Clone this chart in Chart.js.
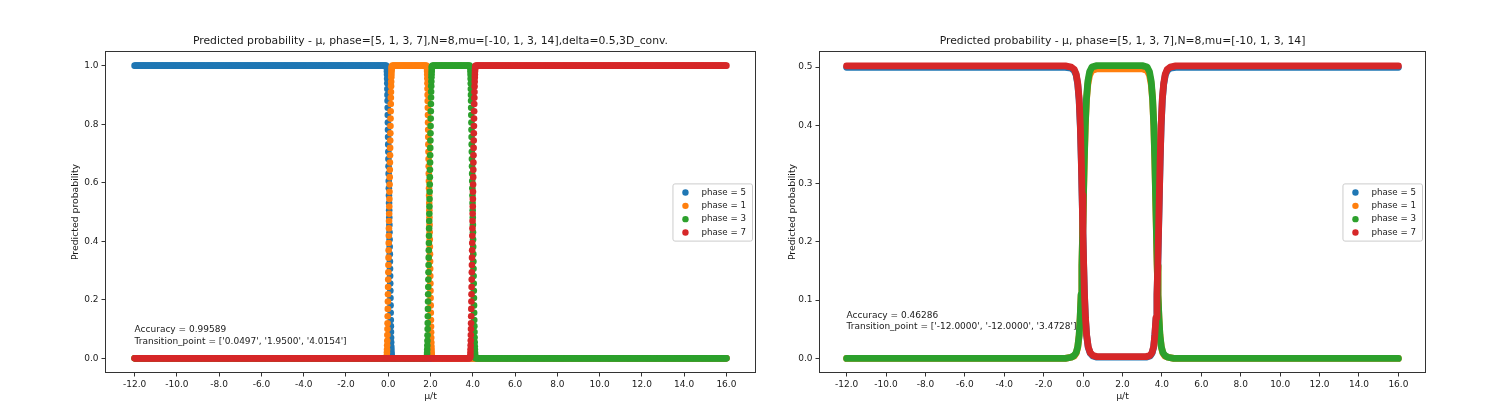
<!DOCTYPE html>
<html lang="en">
<head>
  <meta charset="UTF-8" />
  <title>Predicted probability</title>
  <script src="https://cdn.jsdelivr.net/npm/chart.js"></script>
  <style>
    body { margin: 0; background: #fff; }
    #wrap { position: relative; width: 1505px; height: 420px; }
    canvas { position: absolute; top: 0; }
    #leftChart { left: 0; }
    #rightChart { left: 780px; }
  </style>
</head>
<body>
<div id="wrap">
  <canvas id="leftChart" width="780" height="420"></canvas>
  <canvas id="rightChart" width="725" height="420"></canvas>
</div>

<script>
  const phases = ['phase = 5', 'phase = 1', 'phase = 3', 'phase = 7'];
  const colors = ['#1f77b4', '#ff7f0e', '#2ca02c', '#d62728'];
  const xTicks = [-12, -10, -8, -6, -4, -2, 0, 2, 4, 6, 8, 10, 12, 14, 16];
  const leftYTicks = [0, 0.2, 0.4, 0.6, 0.8, 1.0];
  const rightYTicks = [0, 0.1, 0.2, 0.3, 0.4, 0.5];

  const leftTitle = 'Predicted probability - μ, phase=[5, 1, 3, 7],N=8,mu=[-10, 1, 3, 14],delta=0.5,3D_conv.';
  const rightTitle = 'Predicted probability - μ, phase=[5, 1, 3, 7],N=8,mu=[-10, 1, 3, 14]';
  const leftNote = ['Accuracy = 0.99589', "Transition_point = ['0.0497', '1.9500', '4.0154']"];
  const rightNote = ['Accuracy = 0.46286', "Transition_point = ['-12.0000', '-12.0000', '3.4728']"];

  // mu sampling: flat stretches every 0.05, steep edges every 0.005
  const FLAT_STEP = 0.05;
  const EDGE_STEP = 0.005;

  // left panel, flat stretches: [mu from, mu to, probability]
  const left5Flat = [[-12, -0.1, 1.0], [0.2, 16, 0.0]];
  const left1Flat = [[-12, -0.1, 0.0], [0.2, 1.8, 1.0], [2.1, 16, 0.0]];
  const left3Flat = [[-12, 1.8, 0.0], [2.1, 3.85, 1.0], [4.15, 16, 0.0]];
  const left7Flat = [[-12, 3.85, 0.0], [4.15, 16, 1.0]];

  // left panel, steep edges: probabilities read every EDGE_STEP from the first mu
  const left5Drop = [0.995, 0.99, 0.98, 0.97, 0.955, 0.94, 0.92, 0.9, 0.88, 0.856, 0.831, 0.806, 0.781, 0.756, 0.731, 0.706, 0.681, 0.656, 0.631, 0.606, 0.581, 0.556, 0.531, 0.506, 0.481, 0.456, 0.431, 0.406, 0.381, 0.356, 0.331, 0.306, 0.281, 0.256, 0.231, 0.206, 0.181, 0.156, 0.131, 0.11, 0.09, 0.07, 0.055, 0.04, 0.03, 0.02, 0.012, 0.006, 0.002];
  const left1Rise = [0.005, 0.01, 0.02, 0.03, 0.045, 0.06, 0.08, 0.1, 0.12, 0.144, 0.169, 0.194, 0.219, 0.244, 0.269, 0.294, 0.319, 0.344, 0.369, 0.394, 0.419, 0.444, 0.469, 0.494, 0.519, 0.544, 0.569, 0.594, 0.619, 0.644, 0.669, 0.694, 0.719, 0.744, 0.769, 0.794, 0.819, 0.844, 0.869, 0.89, 0.91, 0.93, 0.945, 0.96, 0.97, 0.98, 0.988, 0.994, 0.998];
  const left1Drop = [0.996, 0.99, 0.982, 0.97, 0.956, 0.94, 0.921, 0.9, 0.879, 0.856, 0.831, 0.806, 0.781, 0.756, 0.731, 0.706, 0.681, 0.656, 0.631, 0.606, 0.581, 0.556, 0.531, 0.506, 0.481, 0.456, 0.431, 0.406, 0.381, 0.356, 0.331, 0.306, 0.281, 0.256, 0.231, 0.206, 0.181, 0.156, 0.131, 0.109, 0.089, 0.07, 0.054, 0.04, 0.029, 0.019, 0.011, 0.005, 0.002];
  const left3Rise = [0.004, 0.01, 0.018, 0.03, 0.044, 0.06, 0.079, 0.1, 0.121, 0.144, 0.169, 0.194, 0.219, 0.244, 0.269, 0.294, 0.319, 0.344, 0.369, 0.394, 0.419, 0.444, 0.469, 0.494, 0.519, 0.544, 0.569, 0.594, 0.619, 0.644, 0.669, 0.694, 0.719, 0.744, 0.769, 0.794, 0.819, 0.844, 0.869, 0.891, 0.911, 0.93, 0.946, 0.96, 0.971, 0.981, 0.989, 0.995, 0.998];
  const left3Drop = [0.995, 0.99, 0.98, 0.969, 0.955, 0.939, 0.92, 0.9, 0.88, 0.856, 0.831, 0.806, 0.781, 0.756, 0.731, 0.706, 0.681, 0.656, 0.631, 0.606, 0.581, 0.556, 0.531, 0.506, 0.481, 0.456, 0.431, 0.406, 0.381, 0.356, 0.331, 0.306, 0.281, 0.256, 0.231, 0.206, 0.181, 0.156, 0.131, 0.11, 0.09, 0.071, 0.055, 0.041, 0.03, 0.02, 0.012, 0.006, 0.002];
  const left7Rise = [0.005, 0.01, 0.02, 0.031, 0.045, 0.061, 0.08, 0.1, 0.12, 0.144, 0.169, 0.194, 0.219, 0.244, 0.269, 0.294, 0.319, 0.344, 0.369, 0.394, 0.419, 0.444, 0.469, 0.494, 0.519, 0.544, 0.569, 0.594, 0.619, 0.644, 0.669, 0.694, 0.719, 0.744, 0.769, 0.794, 0.819, 0.844, 0.869, 0.89, 0.91, 0.929, 0.945, 0.959, 0.97, 0.98, 0.988, 0.994, 0.998];
  // first mu of each edge
  const left5Edges = [[-0.07, left5Drop]];
  const left1Edges = [[-0.07, left1Rise], [1.83, left1Drop]];
  const left3Edges = [[1.83, left3Rise], [3.88, left3Drop]];
  const left7Edges = [[3.88, left7Rise]];

  // right panel: [mu, probability]
  const right5Pts = [[-12, 0.4995], [-0.9, 0.4995], [-0.6, 0.498], [-0.45, 0.494], [-0.35, 0.486], [-0.27, 0.47], [-0.2, 0.443], [-0.14, 0.398], [-0.09, 0.338], [-0.05, 0.278], [-0.01, 0.218], [0.03, 0.158], [0.07, 0.108], [0.12, 0.068], [0.18, 0.039], [0.26, 0.019], [0.36, 0.009], [0.5, 0.004], [0.7, 0.002], [3.2, 0.002], [3.4, 0.004], [3.5, 0.009], [3.58, 0.019], [3.64, 0.039], [3.7, 0.068], [3.75, 0.108], [3.79, 0.158], [3.83, 0.218], [3.87, 0.278], [3.91, 0.338], [3.96, 0.398], [4.02, 0.443], [4.09, 0.47], [4.17, 0.486], [4.27, 0.494], [4.42, 0.498], [4.7, 0.4995], [16, 0.4995]];
  const right1Pts = [[-12, 0], [-0.9, 0], [-0.6, 0.002], [-0.45, 0.004], [-0.35, 0.009], [-0.27, 0.019], [-0.2, 0.039], [-0.15, 0.068], [-0.1, 0.108], [-0.06, 0.158], [-0.02, 0.218], [0.02, 0.278], [0.06, 0.338], [0.11, 0.398], [0.17, 0.443], [0.24, 0.47], [0.33, 0.486], [0.45, 0.494], [0.7, 0.497], [3.0, 0.497], [3.25, 0.494], [3.37, 0.486], [3.46, 0.47], [3.53, 0.443], [3.59, 0.398], [3.64, 0.338], [3.68, 0.278], [3.72, 0.218], [3.76, 0.158], [3.8, 0.108], [3.85, 0.068], [3.9, 0.039], [3.97, 0.019], [4.05, 0.009], [4.15, 0.004], [4.3, 0.002], [4.6, 0], [16, 0]];
  const right3Pts = [[-12, 0], [-0.9, 0], [-0.6, 0.002], [-0.45, 0.005], [-0.35, 0.01], [-0.27, 0.02], [-0.2, 0.04], [-0.15, 0.07], [-0.1, 0.11], [-0.06, 0.16], [-0.02, 0.22], [0.02, 0.28], [0.06, 0.34], [0.11, 0.4], [0.17, 0.445], [0.24, 0.475], [0.33, 0.492], [0.45, 0.5], [0.7, 0.5025], [3.0, 0.5025], [3.25, 0.5], [3.37, 0.492], [3.46, 0.475], [3.53, 0.445], [3.59, 0.4], [3.64, 0.34], [3.68, 0.28], [3.72, 0.22], [3.76, 0.16], [3.8, 0.11], [3.85, 0.07], [3.9, 0.04], [3.97, 0.02], [4.05, 0.01], [4.15, 0.005], [4.3, 0.002], [4.6, 0], [16, 0]];
  const right7Pts = [[-12, 0.502], [-0.9, 0.502], [-0.6, 0.5], [-0.45, 0.496], [-0.35, 0.488], [-0.27, 0.472], [-0.2, 0.445], [-0.14, 0.4], [-0.09, 0.34], [-0.05, 0.28], [-0.01, 0.22], [0.03, 0.16], [0.07, 0.11], [0.12, 0.07], [0.18, 0.04], [0.26, 0.02], [0.36, 0.01], [0.5, 0.005], [0.7, 0.003], [3.2, 0.003], [3.4, 0.005], [3.5, 0.01], [3.58, 0.02], [3.64, 0.04], [3.7, 0.07], [3.75, 0.11], [3.79, 0.16], [3.83, 0.22], [3.87, 0.28], [3.91, 0.34], [3.96, 0.4], [4.02, 0.445], [4.09, 0.472], [4.17, 0.488], [4.27, 0.496], [4.42, 0.5], [4.7, 0.502], [16, 0.502]];

  Chart.defaults.font.family = '"DejaVu Sans", sans-serif';
  const INK = '#1a1a1a';
  const TICK_SIZE = 9;
  const LABEL_SIZE = 9.3;

  function seriesPoints(flat, edges) {
    const pts = [];
    flat.forEach(([a, b, p]) => {
      for (let x = a; x < b - 1e-9; x += FLAT_STEP) pts.push({ x, y: p });
      pts.push({ x: b, y: p });
    });
    edges.forEach(([mu0, ps]) => {
      ps.forEach((p, i) => pts.push({ x: mu0 + i * EDGE_STEP, y: p }));
    });
    return pts;
  }

  // frame, note text and legend drawn on top of the datasets
  const decorations = {
    id: 'decorations',
    afterDraw(chart, args, opts) {
      const { ctx, chartArea: area, scales } = chart;
      ctx.save();
      ctx.strokeStyle = '#333';
      ctx.lineWidth = 1;
      ctx.strokeRect(area.left + 0.5, area.top + 0.5, area.right - area.left - 1, area.bottom - area.top - 1);

      ctx.font = '9px "DejaVu Sans"';
      ctx.fillStyle = INK;
      ctx.textAlign = 'left';
      ctx.textBaseline = 'middle';
      const nx = scales.x.getPixelForValue(opts.noteAt[0]);
      const ny = scales.y.getPixelForValue(opts.noteAt[1]) - 2.5;
      opts.note.forEach((line, i) => ctx.fillText(line, nx, ny - (opts.note.length - 1 - i) * 11.5));

      ctx.font = '8.7px "DejaVu Sans"';
      const sets = chart.data.datasets;
      const textW = Math.max(...sets.map(d => ctx.measureText(d.label).width));
      const w = 29 + textW + 6, rowH = 13.3, h = sets.length * rowH + 4;
      const bx = area.right - 4 - w, by = (area.top + area.bottom) / 2 - h / 2;
      ctx.fillStyle = 'rgba(255,255,255,0.8)';
      ctx.strokeStyle = '#cccccc';
      ctx.beginPath();
      ctx.roundRect(bx + 0.5, by + 0.5, w, h, 2);
      ctx.fill();
      ctx.stroke();
      sets.forEach((d, i) => {
        const cy = by + 2 + rowH * (i + 0.5) + 0.5;
        ctx.fillStyle = d.backgroundColor;
        ctx.beginPath();
        ctx.arc(bx + 13, cy, 3.2, 0, Math.PI * 2);
        ctx.fill();
        ctx.fillStyle = INK;
        ctx.fillText(d.label, bx + 29, cy);
      });
      ctx.restore();
    }
  };

  function makeChart(id, cfg) {
    return new Chart(document.getElementById(id), {
      type: 'scatter',
      data: { datasets: cfg.datasets },
      options: {
        responsive: false,
        animation: false,
        events: [],
        layout: { padding: { left: 0, right: cfg.padRight, top: 0, bottom: 0 } },
        plugins: {
          legend: { display: false },
          tooltip: { enabled: false },
          title: {
            display: true, fullSize: false, text: cfg.title, color: INK,
            font: { size: 10.8, weight: 'normal', lineHeight: 1.2 },
            padding: { top: 34.5, bottom: 3.54 }
          },
          decorations: { note: cfg.note, noteAt: [-12, 0.05] }
        },
        scales: {
          x: {
            type: 'linear', min: -13.4, max: 17.4,
            afterBuildTicks: s => { s.ticks = xTicks.map(v => ({ value: v })); },
            afterFit: s => { s.height = 47; },
            ticks: { callback: v => v.toFixed(1), color: INK, font: { size: TICK_SIZE }, padding: 2.5, maxRotation: 0, autoSkip: false },
            grid: { drawOnChartArea: false, tickLength: 3.5, tickColor: '#333', tickWidth: 1 },
            border: { display: false },
            title: { display: true, text: 'μ/t', color: INK, font: { size: LABEL_SIZE, lineHeight: 1.2 }, padding: { top: 0, bottom: 23 - LABEL_SIZE * 0.6 } }
          },
          y: {
            type: 'linear', min: cfg.yMin, max: cfg.yMax,
            afterBuildTicks: s => { s.ticks = cfg.yTicks.map(v => ({ value: v })); },
            afterFit: s => { s.width = cfg.axisWidth; },
            ticks: { callback: v => v.toFixed(1), color: INK, font: { size: TICK_SIZE }, padding: 3 },
            grid: { drawOnChartArea: false, tickLength: 3.5, tickColor: '#333', tickWidth: 1 },
            border: { display: false },
            title: { display: true, text: 'Predicted probability', color: INK, font: { size: LABEL_SIZE, lineHeight: 1.2 }, padding: { top: cfg.yTitleOffset - LABEL_SIZE * 0.6, bottom: 0 } }
          }
        }
      },
      plugins: [decorations]
    });
  }

  const leftSeries = [
    seriesPoints(left5Flat, left5Edges),
    seriesPoints(left1Flat, left1Edges),
    seriesPoints(left3Flat, left3Edges),
    seriesPoints(left7Flat, left7Edges)
  ];
  const rightSeries = [right5Pts, right1Pts, right3Pts, right7Pts].map(s => s.map(([x, y]) => ({ x, y })));

  makeChart('leftChart', {
    title: leftTitle, note: leftNote, yMin: -0.05, yMax: 1.05, yTicks: leftYTicks,
    axisWidth: 105, yTitleOffset: 76, padRight: 24,
    datasets: leftSeries.map((pts, i) => ({
      label: phases[i], data: pts, order: 3 - i,
      backgroundColor: colors[i], borderColor: colors[i],
      pointRadius: 3.3, pointBorderWidth: 0, pointHoverRadius: 3.3
    }))
  });

  makeChart('rightChart', {
    title: rightTitle, note: rightNote, yMin: -0.0251, yMax: 0.5276, yTicks: rightYTicks,
    axisWidth: 39, yTitleOffset: 13, padRight: 79,
    datasets: rightSeries.map((pts, i) => ({
      label: phases[i], data: pts, order: 3 - i, showLine: true,
      backgroundColor: colors[i], borderColor: colors[i], borderWidth: 6.8,
      borderCapStyle: 'round', borderJoinStyle: 'round',
      pointRadius: 0, pointHoverRadius: 0
    }))
  });
</script>
</body>
</html>
